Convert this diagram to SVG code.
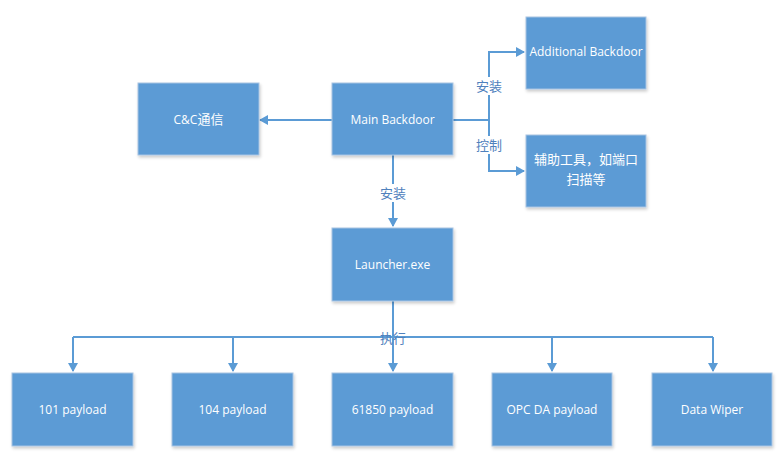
<svg xmlns="http://www.w3.org/2000/svg" width="782" height="461" viewBox="0 0 782 461">
<style>
.box{fill:#5B9BD5;stroke:#A8C3E2;stroke-width:1}
.t{fill:#fff;font-family:"Open Sans","Noto Sans CJK SC",sans-serif;font-size:12px;text-anchor:middle}
.cjk{font-size:13px}
.c{fill:none;stroke:#5B9BD5;stroke-width:2}
.lb{fill:#4F81BD;font-family:"Open Sans","Noto Sans CJK SC",sans-serif;font-size:13px;text-anchor:middle}
</style>
<defs>
<marker id="ah" markerWidth="10" markerHeight="10" refX="8" refY="5" orient="auto" markerUnits="userSpaceOnUse">
<path d="M0,0 L9,5 L0,10 Z" fill="#5B9BD5"/>
</marker>
<filter id="sh" x="-10%" y="-10%" width="130%" height="130%">
<feDropShadow dx="1" dy="2" stdDeviation="1.5" flood-color="#000" flood-opacity="0.2"/>
</filter>
</defs>
<rect width="782" height="461" fill="#fff"/>
<g id="connectors">
<path class="c" d="M332,120 H260" marker-end="url(#ah)"/>
<path class="c" d="M453,120 H489"/>
<path class="c" d="M489,120 V52 H524" marker-end="url(#ah)"/>
<path class="c" d="M489,120 V171 H524" marker-end="url(#ah)"/>
<path class="c" d="M393,155 V226" marker-end="url(#ah)"/>
<path class="c" d="M393,301 V371" marker-end="url(#ah)"/>
<path class="c" d="M73,337 H713"/>
<path class="c" d="M73,337 V371" marker-end="url(#ah)"/>
<path class="c" d="M233,337 V371" marker-end="url(#ah)"/>
<path class="c" d="M552,337 V371" marker-end="url(#ah)"/>
<path class="c" d="M713,337 V371" marker-end="url(#ah)"/>
<rect x="475" y="77" width="28" height="18" fill="#fff"/>
<text class="lb" x="489" y="91">安装</text>
<rect x="475" y="136" width="28" height="18" fill="#fff"/>
<text class="lb" x="489" y="150">控制</text>
<rect x="379" y="184" width="28" height="18" fill="#fff"/>
<text class="lb" x="393" y="198">安装</text>
<text class="lb" x="393" y="343">执行</text>
</g>
<g id="cc"><rect class="box" filter="url(#sh)" x="138" y="83" width="121" height="72"/><text class="t" x="198.5" y="124">C&amp;C<tspan class="cjk">通信</tspan></text></g>
<g id="main"><rect class="box" filter="url(#sh)" x="332" y="83" width="121" height="72"/><text class="t" x="392.5" y="124">Main Backdoor</text></g>
<g id="additional"><rect class="box" filter="url(#sh)" x="526" y="17" width="120" height="72"/><text class="t" x="586" y="56">Additional Backdoor</text></g>
<g id="tools"><rect class="box" filter="url(#sh)" x="526" y="135" width="120" height="72"/><text class="t cjk" x="586" y="164">辅助工具，如端口</text><text class="t cjk" x="586" y="184">扫描等</text></g>
<g id="launcher"><rect class="box" filter="url(#sh)" x="332" y="228" width="121" height="73"/><text class="t" x="392.5" y="269">Launcher.exe</text></g>
<g id="p101"><rect class="box" filter="url(#sh)" x="12" y="373" width="121" height="73"/><text class="t" x="72.5" y="414">101 payload</text></g>
<g id="p104"><rect class="box" filter="url(#sh)" x="172" y="373" width="121" height="73"/><text class="t" x="232.5" y="414">104 payload</text></g>
<g id="p61850"><rect class="box" filter="url(#sh)" x="332" y="373" width="121" height="73"/><text class="t" x="392.5" y="414">61850 payload</text></g>
<g id="opc"><rect class="box" filter="url(#sh)" x="492" y="373" width="120" height="73"/><text class="t" x="552" y="414">OPC DA payload</text></g>
<g id="wiper"><rect class="box" filter="url(#sh)" x="652" y="373" width="120" height="73"/><text class="t" x="712" y="414">Data Wiper</text></g>
</svg>
